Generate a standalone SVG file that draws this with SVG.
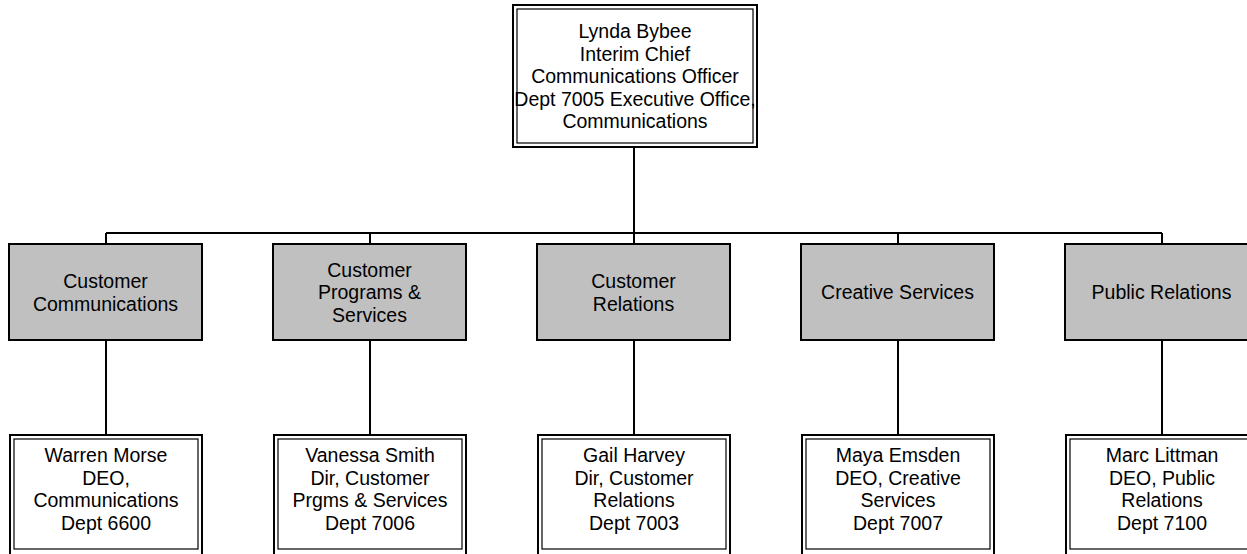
<svg xmlns="http://www.w3.org/2000/svg" width="1247" height="554" viewBox="0 0 1247 554">
<style>
.t{font-family:"Liberation Sans",Arial,sans-serif;font-size:19.5px;fill:#000;text-anchor:middle}
.o{fill:#fff;stroke:#000;stroke-width:2}
.i{fill:none;stroke:#000;stroke-width:1.2}
.g{fill:#c0c0c0;stroke:#000;stroke-width:2}
.c{fill:none;stroke:#000;stroke-width:2}
</style>
<rect width="1247" height="554" fill="#fff"/>
<g id="connectors">
<path class="c" d="M634,148V233M106,233H1162M106,233V244M370,233V244M634,233V244M898,233V244M1162,233V244"/>
<path class="c" d="M106,340V435M370,340V435M634,340V435M898,340V435M1162,340V435"/>
</g>
<g id="n-top">
<rect class="o" x="513" y="5" width="244" height="142"/>
<rect class="i" x="517" y="9" width="236" height="134"/>
<text class="t" x="635" y="38">Lynda Bybee</text>
<text class="t" x="635" y="60.5">Interim Chief</text>
<text class="t" x="635" y="83">Communications Officer</text>
<text class="t" x="635" y="105.5">Dept 7005 Executive Office,</text>
<text class="t" x="635" y="128">Communications</text>
</g>
<g id="g1"><rect class="g" x="9" y="244" width="193" height="96"/>
<text class="t" x="105.5" y="288">Customer</text><text class="t" x="105.5" y="310.5">Communications</text></g>
<g id="g2"><rect class="g" x="273" y="244" width="193" height="96"/>
<text class="t" x="369.5" y="276.5">Customer</text><text class="t" x="369.5" y="299">Programs &amp;</text><text class="t" x="369.5" y="321.5">Services</text></g>
<g id="g3"><rect class="g" x="537" y="244" width="193" height="96"/>
<text class="t" x="633.5" y="288">Customer</text><text class="t" x="633.5" y="310.5">Relations</text></g>
<g id="g4"><rect class="g" x="801" y="244" width="193" height="96"/>
<text class="t" x="897.5" y="299">Creative Services</text></g>
<g id="g5"><rect class="g" x="1065" y="244" width="193" height="96"/>
<text class="t" x="1161.5" y="299">Public Relations</text></g>
<g id="p1"><rect class="o" x="10" y="435" width="192" height="120"/><rect class="i" x="14" y="439" width="184" height="110"/>
<text class="t" x="106" y="462">Warren Morse</text><text class="t" x="106" y="484.5">DEO,</text><text class="t" x="106" y="507">Communications</text><text class="t" x="106" y="529.5">Dept 6600</text></g>
<g id="p2"><rect class="o" x="274" y="435" width="192" height="120"/><rect class="i" x="278" y="439" width="184" height="110"/>
<text class="t" x="370" y="462">Vanessa Smith</text><text class="t" x="370" y="484.5">Dir, Customer</text><text class="t" x="370" y="507">Prgms &amp; Services</text><text class="t" x="370" y="529.5">Dept 7006</text></g>
<g id="p3"><rect class="o" x="538" y="435" width="192" height="120"/><rect class="i" x="542" y="439" width="184" height="110"/>
<text class="t" x="634" y="462">Gail Harvey</text><text class="t" x="634" y="484.5">Dir, Customer</text><text class="t" x="634" y="507">Relations</text><text class="t" x="634" y="529.5">Dept 7003</text></g>
<g id="p4"><rect class="o" x="802" y="435" width="192" height="120"/><rect class="i" x="806" y="439" width="184" height="110"/>
<text class="t" x="898" y="462">Maya Emsden</text><text class="t" x="898" y="484.5">DEO, Creative</text><text class="t" x="898" y="507">Services</text><text class="t" x="898" y="529.5">Dept 7007</text></g>
<g id="p5"><rect class="o" x="1066" y="435" width="192" height="120"/><rect class="i" x="1070" y="439" width="184" height="110"/>
<text class="t" x="1162" y="462">Marc Littman</text><text class="t" x="1162" y="484.5">DEO, Public</text><text class="t" x="1162" y="507">Relations</text><text class="t" x="1162" y="529.5">Dept 7100</text></g>
</svg>
